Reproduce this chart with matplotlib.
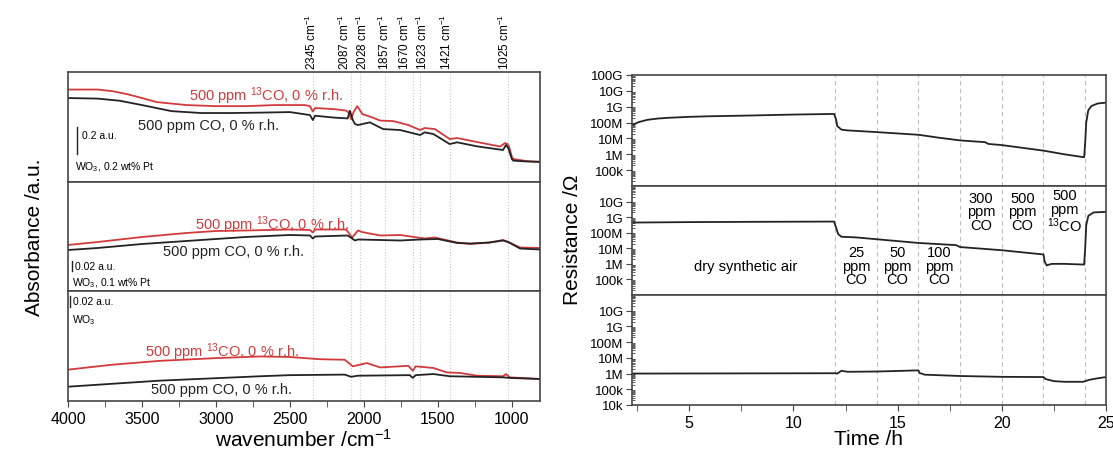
import numpy as np
import matplotlib
matplotlib.use("Agg")
import matplotlib.pyplot as plt
from matplotlib import transforms
from matplotlib.ticker import FixedLocator, FixedFormatter, LogLocator, MultipleLocator, NullFormatter

plt.rcParams['font.family'] = ['Liberation Sans', 'DejaVu Sans']
plt.rcParams['mathtext.fontset'] = 'custom'
plt.rcParams['mathtext.rm'] = 'Liberation Sans'
plt.rcParams['mathtext.it'] = 'Liberation Sans:italic'

RED = '#d23a3c'
BLK = '#232323'
SPINE = '#454545'

# ---- DRIFT spectra (absorbance, arbitrary offsets) ----
band_wn = [2345, 2087, 2028, 1857, 1670, 1623, 1421, 1025]

# WO3, 0.2 wt% Pt
pt02_wn_red = [4000, 3800, 3700, 3600, 3500, 3400, 3200, 3000, 2800, 2600, 2400, 2365, 2345, 2330,
               2200, 2120, 2100, 2087, 2070, 2045, 2028, 2010, 1950, 1890, 1800, 1700, 1620, 1590,
               1520, 1420, 1370, 1235, 1080, 1045, 1030, 1020, 1000, 990, 900, 810]
pt02_red = [0.685, 0.685, 0.673, 0.651, 0.622, 0.592, 0.570, 0.562, 0.562, 0.570, 0.570, 0.562, 0.522, 0.548,
            0.540, 0.529, 0.511, 0.466, 0.518, 0.562, 0.533, 0.503, 0.481, 0.455, 0.451, 0.422, 0.385, 0.400,
            0.392, 0.318, 0.326, 0.296, 0.263, 0.289, 0.281, 0.266, 0.185, 0.170, 0.155, 0.148]
pt02_wn_blk = [4000, 3800, 3650, 3500, 3300, 3100, 2900, 2700, 2500, 2365, 2345, 2330, 2200, 2110,
               2095, 2075, 2060, 2040, 1960, 1870, 1755, 1620, 1590, 1530, 1420, 1370, 1235, 1060,
               1040, 1025, 1000, 990, 900, 810]
pt02_blk = [0.622, 0.618, 0.602, 0.570, 0.525, 0.511, 0.511, 0.514, 0.518, 0.496, 0.459, 0.491, 0.477, 0.471,
            0.528, 0.459, 0.429, 0.422, 0.442, 0.392, 0.385, 0.348, 0.368, 0.355, 0.281, 0.294, 0.264, 0.237,
            0.274, 0.252, 0.170, 0.158, 0.152, 0.150]

# WO3, 0.1 wt% Pt
pt01_wn_red = [4000, 3800, 3500, 3200, 3000, 2800, 2500, 2365, 2345, 2330, 2120, 2080, 2040, 2013,
               1890, 1755, 1590, 1520, 1370, 1280, 1150, 1060, 1025, 945, 810]
pt01_red = [0.092, 0.098, 0.108, 0.116, 0.120, 0.121, 0.123, 0.122, 0.117, 0.123, 0.123, 0.107, 0.121, 0.118,
            0.111, 0.112, 0.105, 0.107, 0.097, 0.094, 0.097, 0.102, 0.098, 0.087, 0.086]
pt01_wn_blk = [4000, 3800, 3500, 3200, 3000, 2800, 2500, 2365, 2345, 2330, 2110, 2060, 2040, 1890,
               1755, 1620, 1500, 1370, 1280, 1150, 1060, 1025, 945, 810]
pt01_blk = [0.082, 0.086, 0.094, 0.100, 0.104, 0.108, 0.112, 0.111, 0.105, 0.109, 0.111, 0.101, 0.103, 0.102,
            0.101, 0.103, 0.104, 0.096, 0.095, 0.097, 0.101, 0.098, 0.085, 0.083]

# WO3
wo3_wn_red = [4000, 3700, 3380, 3000, 2700, 2500, 2300, 2130, 2075, 1980, 1890, 1700, 1670, 1650,
              1530, 1440, 1350, 1235, 1060, 1040, 1015, 810]
wo3_red = [0.057, 0.066, 0.073, 0.078, 0.081, 0.080, 0.076, 0.075, 0.063, 0.069, 0.061, 0.064, 0.055, 0.063,
           0.060, 0.052, 0.051, 0.046, 0.045, 0.049, 0.043, 0.040]
wo3_wn_blk = [4000, 3380, 2700, 2500, 2130, 2087, 2040, 1690, 1670, 1650, 1530, 1420, 1060, 1015, 810]
wo3_blk = [0.026, 0.037, 0.045, 0.047, 0.048, 0.044, 0.046, 0.047, 0.042, 0.047, 0.049, 0.045, 0.043,
           0.042, 0.040]

# ---- resistance transients ----
pt02_t = [2.3, 2.6, 3.0, 3.5, 4, 5, 6, 8, 10, 11.95, 12.05, 12.1, 12.3, 12.6, 13, 14, 16, 17, 18,
          19.2, 19.35, 20, 22, 23, 23.95, 24.0, 24.05, 24.15, 24.3, 24.6, 25]
pt02_R = [7.5e7, 1.1e8, 1.5e8, 1.8e8, 2.0e8, 2.3e8, 2.5e8, 2.8e8, 3.2e8, 3.5e8, 1.5e8, 6e7, 3.6e7, 3.2e7,
          3.0e7, 2.5e7, 1.7e7, 1.1e7, 7.5e6, 5.8e6, 4.5e6, 3.8e6, 1.7e6, 1.0e6, 6.5e5, 5e6, 1e8, 6e8,
          1.1e9, 1.6e9, 1.8e9]
pt01_t = [2.3, 5, 8, 11.95, 12.05, 12.15, 12.3, 13, 14, 16, 17.8, 18.0, 20, 22, 22.05, 22.15, 22.4, 23,
          23.95, 24.0, 24.05, 24.15, 24.4, 25]
pt01_R = [4.5e8, 4.8e8, 5.0e8, 5.2e8, 2e8, 8e7, 5.5e7, 5.0e7, 3.8e7, 2.2e7, 1.6e7, 1.2e7, 7.5e6, 4e6,
          1.5e6, 8e5, 1.0e6, 1.0e6, 9e5, 1e7, 3e8, 1.2e9, 2.0e9, 2.2e9]
wo3_t = [2.3, 12.0, 12.1, 12.3, 12.6, 14, 16, 16.05, 16.3, 18, 20, 22, 22.1, 22.5, 23, 23.9, 24.2, 24.6, 25]
wo3_R = [1.0e6, 1.05e6, 1.0e6, 1.5e6, 1.3e6, 1.35e6, 1.6e6, 1.1e6, 8.5e5, 7e5, 6.2e5, 6e5, 4.5e5, 3.3e5,
         3e5, 3e5, 4e5, 5e5, 6e5]

switch_t = [12, 14, 16, 18, 20, 22, 24]
gas_labels = ['25\nppm\nCO', '50\nppm\nCO', '100\nppm\nCO', '300\nppm\nCO', '500\nppm\nCO',
              '500\nppm\n$^{13}$CO']

W, H = 1113, 464
fig = plt.figure(figsize=(W / 100, H / 100), dpi=100)


def rect(x0, y0, x1, y1):
    return [x0 / W, 1 - y1 / H, (x1 - x0) / W, (y1 - y0) / H]


def style_spines(ax):
    for s in ax.spines.values():
        s.set_color(SPINE)
        s.set_linewidth(1.2)


# left column
left_rows = [(73, 183), (183, 292), (292, 402)]
spectra = [
    (pt02_wn_red, pt02_red, pt02_wn_blk, pt02_blk, 0.815),
    (pt01_wn_red, pt01_red, pt01_wn_blk, pt01_blk, 0.218),
    (wo3_wn_red, wo3_red, wo3_wn_blk, wo3_blk, 0.200),
]
lax = []
for (y0, y1), (wr, r, wb, b, top) in zip(left_rows, spectra):
    ax = fig.add_axes(rect(68, y0, 540, y1))
    for w in band_wn:
        ax.axvline(w, color='#c8c8c8', ls=':', lw=0.8, zorder=0)
    ax.plot(wr, r, color=RED, lw=1.3)
    ax.plot(wb, b, color=BLK, lw=1.3)
    ax.set_xlim(4000, 810)
    ax.set_ylim(0, top)
    ax.set_yticks([])
    style_spines(ax)
    lax.append(ax)

for ax in lax[:2]:
    ax.tick_params(axis='x', bottom=False, labelbottom=False)
lax[2].xaxis.set_major_locator(MultipleLocator(500))
lax[2].xaxis.set_minor_locator(MultipleLocator(250))
lax[2].tick_params(axis='x', which='both', direction='out', length=4, color=SPINE, labelsize=11.5, pad=3)

# band position labels, nudged sideways (pixels) so neighbouring labels sit side by side
label_shift = [-1, -7, 3, -1, -8, 3, -3, -4]
trans = transforms.blended_transform_factory(lax[0].transData, lax[0].transAxes)
for w, dx in zip(band_wn, label_shift):
    tr = transforms.offset_copy(trans, fig=fig, x=dx * 0.72, y=0, units='points')
    lax[0].text(w, 1.03, f'{w} cm$^{{-1}}$', transform=tr, rotation=90, ha='center', va='bottom',
                fontsize=8.5)

red_lab = '500 ppm $^{13}$CO, 0 % r.h.'
blk_lab = '500 ppm CO, 0 % r.h.'
# panel texts
lax[0].text(0.42, 0.79, red_lab, color=RED, transform=lax[0].transAxes, ha='center', va='center', fontsize=10.5)
lax[0].text(0.297, 0.52, blk_lab, color=BLK, transform=lax[0].transAxes, ha='center', va='center', fontsize=10.5)
lax[0].plot([3939, 3939], [0.207, 0.407], color=BLK, lw=1)
lax[0].text(3905, 0.35, '0.2 a.u.', fontsize=7.5, va='center')
lax[0].text(0.015, 0.14, 'WO$_3$, 0.2 wt% Pt', transform=lax[0].transAxes, fontsize=7.5, va='center')

lax[1].text(0.432, 0.61, red_lab, color=RED, transform=lax[1].transAxes, ha='center', va='center', fontsize=10.5)
lax[1].text(0.35, 0.37, blk_lab, color=BLK, transform=lax[1].transAxes, ha='center', va='center', fontsize=10.5)
lax[1].plot([3973, 3973], [0.040, 0.060], color=BLK, lw=1)
lax[1].text(3950, 0.050, '0.02 a.u.', fontsize=7.5, va='center')
lax[1].text(0.008, 0.085, 'WO$_3$, 0.1 wt% Pt', transform=lax[1].transAxes, fontsize=7.5, va='center')

lax[2].plot([3986, 3986], [0.171, 0.191], color=BLK, lw=1)
lax[2].text(3965, 0.181, '0.02 a.u.', fontsize=7.5, va='center')
lax[2].text(0.008, 0.74, 'WO$_3$', transform=lax[2].transAxes, fontsize=7.5, va='center')
lax[2].text(0.326, 0.455, red_lab, color=RED, transform=lax[2].transAxes, ha='center', va='center', fontsize=10.5)
lax[2].text(0.326, 0.11, blk_lab, color=BLK, transform=lax[2].transAxes, ha='center', va='center', fontsize=10.5)

fig.text(35 / W, 1 - 237 / H, 'Absorbance /a.u.', rotation=90, ha='center', va='center', fontsize=15)
fig.text(304 / W, 1 - 440 / H, 'wavenumber /cm$^{-1}$', ha='center', va='center', fontsize=15)

# right column
right_rows = [(76, 187), (187, 296), (296, 406)]
transients = [(pt02_t, pt02_R), (pt01_t, pt01_R), (wo3_t, wo3_R)]
tick_sets = [
    ([1e5, 1e6, 1e7, 1e8, 1e9, 1e10, 1e11], ['100k', '1M', '10M', '100M', '1G', '10G', '100G']),
    ([1e5, 1e6, 1e7, 1e8, 1e9, 1e10], ['100k', '1M', '10M', '100M', '1G', '10G']),
    ([1e4, 1e5, 1e6, 1e7, 1e8, 1e9, 1e10], ['10k', '100k', '1M', '10M', '100M', '1G', '10G']),
]
rax = []
for (y0, y1), (t, R), (tv, tl) in zip(right_rows, transients, tick_sets):
    ax = fig.add_axes(rect(632, y0, 1106, y1))
    for s in switch_t:
        ax.axvline(s, color='#bdbdbd', ls=(0, (4, 3)), lw=0.8, zorder=0)
    ax.plot(t, R, color=BLK, lw=1.3)
    ax.set_yscale('log')
    ax.set_ylim(1e4, 1e11)
    ax.set_xlim(2.25, 25)
    ax.yaxis.set_major_locator(FixedLocator(tv))
    ax.yaxis.set_major_formatter(FixedFormatter(tl))
    ax.yaxis.set_minor_locator(LogLocator(base=10, subs=np.arange(2, 10), numticks=50))
    ax.yaxis.set_minor_formatter(NullFormatter())
    ax.tick_params(axis='y', which='major', direction='out', length=4, color=SPINE, labelsize=9.5, pad=2)
    ax.tick_params(axis='y', which='minor', direction='in', length=2.5, color=SPINE)
    style_spines(ax)
    rax.append(ax)

for ax in rax[:2]:
    ax.tick_params(axis='x', bottom=False, labelbottom=False)
rax[2].xaxis.set_major_locator(MultipleLocator(5))
rax[2].xaxis.set_minor_locator(MultipleLocator(2.5))
rax[2].tick_params(axis='x', which='both', direction='out', length=4, color=SPINE, labelsize=11.5, pad=3)

mid_tr = transforms.blended_transform_factory(rax[1].transData, rax[1].transAxes)
rax[1].text(7.7, 0.27, 'dry synthetic air', transform=mid_tr, ha='center', va='center', fontsize=10.5)
for i, lab in enumerate(gas_labels):
    tc = switch_t[i] + 1
    yc = 0.27 if i < 3 else 0.77
    rax[1].text(tc, yc, lab, transform=mid_tr, ha='center', va='center', fontsize=10.5, linespacing=0.95)

fig.text(572 / W, 1 - 240 / H, 'Resistance /\u03a9', rotation=90, ha='center', va='center', fontsize=15)
fig.text(869 / W, 1 - 440 / H, 'Time /h', ha='center', va='center', fontsize=15)

fig.savefig('out.png', dpi=100)
